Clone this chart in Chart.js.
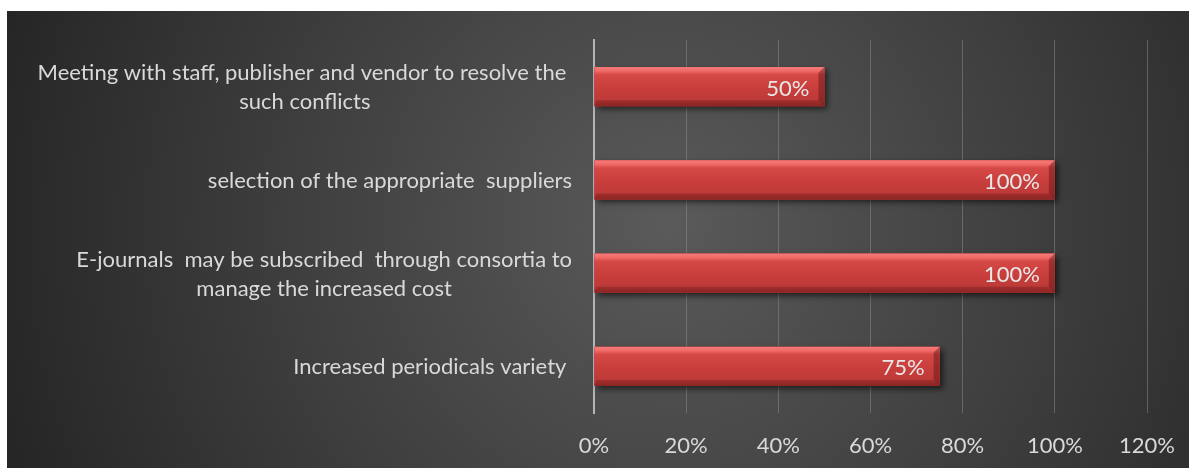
<!DOCTYPE html>
<html lang="en">
<head>
    <meta charset="UTF-8">
    <title>Periodicals chart</title>
    <style>
        html, body { margin: 0; padding: 0; background: #fff; }
        .chart-container {
            position: absolute;
            left: 7px;
            top: 11px;
            width: 1182px;
            height: 457px;
        }
    </style>
</head>
<body>
    <div class="chart-container">
        <canvas id="bar-chart"></canvas>
    </div>

    <script src="https://cdn.jsdelivr.net/npm/chart.js"></script>
    <script>
        // data
        var categories = [
            ['Meeting with staff, publisher and vendor to resolve the ', 'such conflicts'],
            ['selection of the appropriate  suppliers'],
            ['E-journals  may be subscribed  through consortia to', 'manage the increased cost'],
            ['Increased periodicals variety ']
        ];
        var percentValues = [50, 100, 100, 75];
        var axisMax = 120;
        var axisStep = 20;

        var fontFamily = 'Lato, "Open Sans", sans-serif';
        var textColor = '#d9d9d9';

        var ctx = document.getElementById('bar-chart').getContext('2d');

        // dark radial background
        var backgroundPlugin = {
            id: 'darkBackground',
            beforeDraw: function (chart) {
                var c = chart.ctx;
                var w = chart.width, h = chart.height;
                var g = c.createRadialGradient(660, 215, 0, 660, 215, 690);
                g.addColorStop(0, '#5a5a5a');
                g.addColorStop(0.55, '#3e3e3e');
                g.addColorStop(1, '#262626');
                c.save();
                c.fillStyle = g;
                c.fillRect(0, 0, w, h);
                c.restore();
            }
        };

        // shadow under bars + bevel look on top
        var bevelPlugin = {
            id: 'bevelBars',
            beforeDatasetsDraw: function (chart) {
                var c = chart.ctx;
                var meta = chart.getDatasetMeta(0);
                c.save();
                meta.data.forEach(function (bar) {
                    var top = bar.y - bar.height / 2;
                    c.shadowColor = 'rgba(0,0,0,0.6)';
                    c.shadowBlur = 6;
                    c.shadowOffsetX = 3;
                    c.shadowOffsetY = 3;
                    c.fillStyle = '#8a2a2a';
                    c.fillRect(bar.base, top, bar.x - bar.base, bar.height);
                });
                c.restore();
            },
            afterDatasetsDraw: function (chart) {
                var c = chart.ctx;
                var meta = chart.getDatasetMeta(0);
                c.save();
                meta.data.forEach(function (bar) {
                    var top = bar.y - bar.height / 2;
                    var bottom = bar.y + bar.height / 2;
                    var left = bar.base;
                    var right = bar.x;
                    var g = c.createLinearGradient(0, top, 0, bottom);
                    g.addColorStop(0, '#f47c7a');
                    g.addColorStop(0.1, '#f06a68');
                    g.addColorStop(0.2, '#d54845');
                    g.addColorStop(0.55, '#c83e3c');
                    g.addColorStop(0.85, '#bd3a38');
                    g.addColorStop(1, '#9a2c2b');
                    c.fillStyle = g;
                    c.fillRect(left, top, right - left, bottom - top);
                    // right end bevel
                    var b = 6;
                    c.fillStyle = 'rgba(90,20,20,0.45)';
                    c.beginPath();
                    c.moveTo(right - b, top + b);
                    c.lineTo(right, top);
                    c.lineTo(right, bottom);
                    c.lineTo(right - b, bottom - b);
                    c.closePath();
                    c.fill();
                    // bottom bevel
                    c.fillStyle = 'rgba(110,25,25,0.35)';
                    c.beginPath();
                    c.moveTo(left, bottom);
                    c.lineTo(left + 2, bottom - b);
                    c.lineTo(right - b, bottom - b);
                    c.lineTo(right, bottom);
                    c.closePath();
                    c.fill();
                });
                c.restore();
            }
        };

        // value labels inside the bar end
        var valueLabelPlugin = {
            id: 'valueLabels',
            afterDatasetsDraw: function (chart) {
                var c = chart.ctx;
                var meta = chart.getDatasetMeta(0);
                c.save();
                c.font = '22px ' + fontFamily;
                c.fillStyle = '#e8e8e8';
                c.textAlign = 'right';
                c.textBaseline = 'middle';
                meta.data.forEach(function (bar, i) {
                    c.fillText(percentValues[i] + '%', bar.x - 15, bar.y + 2);
                });
                c.restore();
            }
        };

        // category labels: single lines right aligned, wrapped lines centred
        var categoryLabelPlugin = {
            id: 'categoryLabels',
            afterDraw: function (chart) {
                var c = chart.ctx;
                var yScale = chart.scales.y;
                var rightEdge = chart.chartArea.left - 22;
                var lineH = 29;
                c.save();
                c.font = '22px ' + fontFamily;
                c.fillStyle = textColor;
                c.textAlign = 'center';
                c.textBaseline = 'middle';
                categories.forEach(function (lines, i) {
                    var yc = yScale.getPixelForTick(i);
                    var widest = 0;
                    lines.forEach(function (l) {
                        widest = Math.max(widest, c.measureText(l).width);
                    });
                    var cx = rightEdge - widest / 2;
                    var y0 = yc - (lines.length - 1) * lineH / 2 + 1;
                    lines.forEach(function (l, k) {
                        c.fillText(l, cx, y0 + k * lineH);
                    });
                });
                c.restore();
            }
        };

        var chart = new Chart(ctx, {
            type: 'bar',
            data: {
                labels: categories,
                datasets: [{
                    data: percentValues,
                    backgroundColor: '#c83e3c',
                    borderWidth: 0,
                    categoryPercentage: 1,
                    barPercentage: 0.42
                }]
            },
            options: {
                indexAxis: 'y',
                responsive: true,
                maintainAspectRatio: false,
                animation: false,
                layout: {
                    padding: { left: 0, top: 29, right: 42, bottom: 0 }
                },
                plugins: {
                    legend: { display: false },
                    tooltip: { enabled: false }
                },
                scales: {
                    x: {
                        min: 0,
                        max: axisMax,
                        border: { display: false },
                        grid: {
                            color: 'rgba(150,150,150,0.45)',
                            lineWidth: 1,
                            drawTicks: false
                        },
                        ticks: {
                            stepSize: axisStep,
                            padding: 20,
                            color: textColor,
                            font: { family: fontFamily, size: 22 },
                            callback: function (v) { return v + '%'; }
                        },
                        afterFit: function (scale) {
                            scale.height = 55;
                            scale.paddingLeft = 0;
                            scale.paddingRight = 0;
                        }
                    },
                    y: {
                        border: { display: true, color: '#b5b5b5', width: 2 },
                        grid: { display: false, drawTicks: false },
                        ticks: {
                            color: 'rgba(0,0,0,0)',
                            callback: function () { return ''; }
                        },
                        afterFit: function (scale) { scale.width = 587; }
                    }
                }
            },
            plugins: [backgroundPlugin, bevelPlugin, valueLabelPlugin, categoryLabelPlugin]
        });
    </script>
</body>
</html>
